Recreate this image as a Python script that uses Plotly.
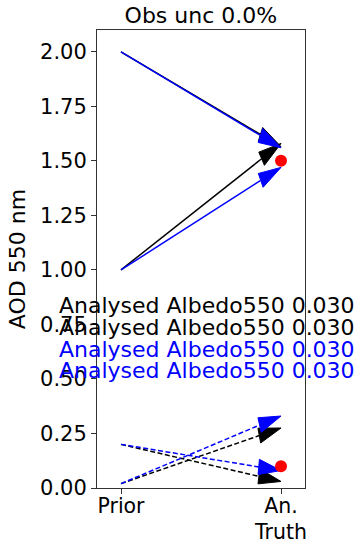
import math
import plotly.graph_objects as go

# Category axis
x_ticks = [0, 1]
x_tick_labels = ["Prior", "An.<br>Truth"]
x_range = [-0.15, 1.15]
y_range = [0, 2.1]

# Upper (solid) arrows: prior AOD -> analysed AOD
black_solid_prior = [1.0, 2.0]
black_solid_analysed = [1.58, 1.565]
blue_solid_prior = [2.0, 1.0]
blue_solid_analysed = [1.56, 1.47]

# Lower (dashed) arrows: prior AOD -> analysed AOD
black_dash_prior = [0.2, 0.02]
black_dash_analysed = [0.03, 0.275]
blue_dash_prior = [0.2, 0.02]
blue_dash_analysed = [0.08, 0.33]

# Truth values
truth_values = [1.5, 0.1]

# Text block
note_texts = ["Analysed Albedo550 0.030"] * 4
note_colors = ["black", "black", "blue", "blue"]
note_y = [0.8, 0.7, 0.6, 0.5]
note_x = -0.4

y_ticks = [0.0, 0.25, 0.5, 0.75, 1.0, 1.25, 1.5, 1.75, 2.0]

FONT = "DejaVu Sans"
HEAD_LEN = 0.14
HEAD_WID = 0.07

fig = go.Figure()


def add_arrow(y0, y1, color, dash):
    x0, x1 = x_ticks[0], x_ticks[1]
    dx, dy = x1 - x0, y1 - y0
    length = math.hypot(dx, dy)
    ux, uy = dx / length, dy / length
    bx, by = x1 - HEAD_LEN * ux, y1 - HEAD_LEN * uy
    nx, ny = -uy, ux
    h = HEAD_WID / 2
    fig.add_trace(go.Scatter(
        x=[x0, bx], y=[y0, by], mode="lines",
        line=dict(color=color, width=1.5, dash=dash),
        hoverinfo="skip", showlegend=False))
    fig.add_trace(go.Scatter(
        x=[x1, bx + h * nx, bx - h * nx, x1],
        y=[y1, by + h * ny, by - h * ny, y1],
        mode="lines", fill="toself", fillcolor=color,
        line=dict(color=color, width=1),
        hoverinfo="skip", showlegend=False))


for p, a in zip(black_solid_prior, black_solid_analysed):
    add_arrow(p, a, "black", "solid")
for p, a in zip(black_dash_prior, black_dash_analysed):
    add_arrow(p, a, "black", "5px,2.5px")
for p, a in zip(blue_solid_prior, blue_solid_analysed):
    add_arrow(p, a, "#0000ff", "solid")
for p, a in zip(blue_dash_prior, blue_dash_analysed):
    add_arrow(p, a, "#0000ff", "5px,2.5px")

fig.add_trace(go.Scatter(
    x=[x_ticks[1]] * len(truth_values), y=truth_values, mode="markers",
    marker=dict(color="#ff0000", size=12),
    hoverinfo="skip", showlegend=False))

# text starts left of the plot area, so place it in paper units
note_x_paper = (note_x - x_range[0]) / (x_range[1] - x_range[0])
for t, c, y in zip(note_texts, note_colors, note_y):
    fig.add_annotation(
        x=note_x_paper, y=y, xref="paper", yref="y", text=t, showarrow=False,
        xanchor="left", yanchor="middle", yshift=8,
        font=dict(family=FONT, size=22, color=c))

fig.update_layout(
    width=360, height=541,
    margin=dict(l=97, r=55, t=30, b=53),
    paper_bgcolor="white", plot_bgcolor="white",
    font=dict(family=FONT, color="black"),
    title=dict(text="Obs unc 0.0%", x=0.558, xref="container", xanchor="center",
               y=1 - 15 / 541, yref="container", yanchor="middle",
               font=dict(family=FONT, size=22, color="black")),
)

fig.update_xaxes(
    range=x_range, tickvals=x_ticks, ticktext=x_tick_labels, automargin=False,
    showgrid=False, zeroline=False, showline=True, mirror=True,
    linecolor="#333", linewidth=1, ticks="outside", ticklen=5,
    ticklabelstandoff=-6,
    tickcolor="#333", tickfont=dict(family=FONT, size=20.5, color="black"))

fig.update_yaxes(
    range=y_range, tickvals=y_ticks, ticktext=[f"{v:.2f}" for v in y_ticks],
    automargin=False,
    showgrid=False, zeroline=False, showline=True, mirror=True,
    linecolor="#333", linewidth=1, ticks="outside", ticklen=5,
    tickcolor="#333", tickfont=dict(family=FONT, size=21, color="black"),
    title=dict(text="AOD 550 nm", font=dict(family=FONT, size=22, color="black"),
               standoff=8))

fig.write_html("out.html")
